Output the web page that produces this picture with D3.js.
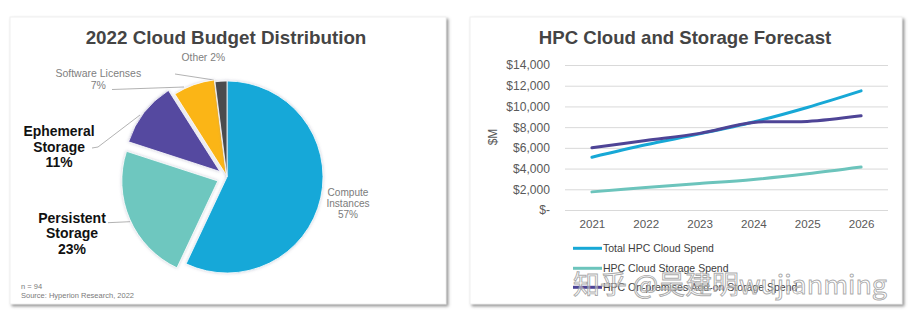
<!DOCTYPE html>
<html>
<head>
<meta charset="utf-8">
<script src="https://cdn.jsdelivr.net/npm/d3@7"></script>
<style>
  html, body { margin: 0; padding: 0; background: #fff; }
  svg { display: block; font-family: "Liberation Sans", Arial, sans-serif; }
</style>
</head>
<body>
<svg id="chart" width="909" height="325"></svg>
<script>
// ---- Budget split (percent of 2022 cloud budget) ----
const budgetCategories = ["Compute Instances", "Persistent Storage", "Ephemeral Storage", "Software Licenses", "Other"];
const budgetShares = [57, 23, 11, 7, 2];
const budgetColors = ["#12A8D8", "#6EC7BF", "#5549A0", "#FBB519", "#4B4B4D"];

// ---- Forecast ($M) ----
const years = ["2021", "2022", "2023", "2024", "2025", "2026"];
const totalCloudSpend = [5100, 6300, 7350, 8500, 9900, 11500];
const cloudStorageSpend = [1750, 2180, 2550, 2950, 3500, 4150];
const onPremStorageSpend = [6000, 6700, 7400, 8450, 8550, 9100];
const seriesNames = ["Total HPC Cloud Spend", "HPC Cloud Storage Spend", "HPC On-premises Add-on Storage Spend"];
const seriesColors = ["#17A8D6", "#6CC4BC", "#4E4496"];
const yTicks = [0, 2000, 4000, 6000, 8000, 10000, 12000, 14000];

const svg = d3.select("#chart");
const defs = svg.append("defs");

const card = defs.append("filter").attr("id", "cardShadow")
  .attr("x", "-5%").attr("y", "-5%").attr("width", "110%").attr("height", "110%");
card.append("feDropShadow").attr("dx", 2).attr("dy", 2).attr("stdDeviation", 1.4)
  .attr("flood-color", "#6f6f6f").attr("flood-opacity", 0.75);

const glow = defs.append("filter").attr("id", "sliceGlow")
  .attr("x", "-20%").attr("y", "-20%").attr("width", "140%").attr("height", "140%");
glow.append("feDropShadow").attr("dx", 0).attr("dy", 0).attr("stdDeviation", 1.6)
  .attr("flood-color", "#8a8aa8").attr("flood-opacity", 0.45);

// panel cards
[[10, 17, 436, 287], [470, 17, 432, 287]].forEach(([x, y, w, h]) => {
  svg.append("rect").attr("x", x).attr("y", y).attr("width", w).attr("height", h)
    .attr("fill", "#fff").attr("stroke", "#ececec").attr("stroke-width", 0.8)
    .attr("filter", "url(#cardShadow)");
});

// ================= Pie panel =================
const pieG = svg.append("g");
pieG.append("text").attr("x", 226).attr("y", 44).attr("text-anchor", "middle")
  .attr("font-size", 18.8).attr("font-weight", "bold").attr("fill", "#444")
  .text("2022 Cloud Budget Distribution");

const cx = 227, cy = 177, R = 96;
const explode = [0, 10, 9, 2, 0];
const pie = d3.pie().sort(null).value(d => d)(budgetShares);
const arc = d3.arc().innerRadius(0).outerRadius(R);

// leader lines (drawn under slices)
const leaderColor = "#a9a9a9";
const leaders = [
  [[92, 148], [98, 147], [140, 115]],
  [[108, 222.7], [130, 221.7]],
  [[112, 89.5], [184, 87]],
  [[175, 74], [214, 80]]
];
leaders.forEach(pts => {
  pieG.append("path").attr("d", d3.line()(pts)).attr("fill", "none")
    .attr("stroke", leaderColor).attr("stroke-width", 0.9);
});

pieG.selectAll("path.slice").data(pie).enter().append("path")
  .attr("class", "slice")
  .attr("transform", (d, i) => {
    const a = (d.startAngle + d.endAngle) / 2;
    return `translate(${cx + explode[i] * Math.sin(a)},${cy - explode[i] * Math.cos(a)})`;
  })
  .attr("d", arc)
  .attr("fill", (d, i) => budgetColors[i])
  .attr("stroke", "#fff").attr("stroke-width", 0.8)
  .attr("filter", "url(#sliceGlow)");

function multiline(g, x, ys, lines, opts) {
  const t = g.append("text").attr("text-anchor", "middle")
    .attr("font-size", opts.size).attr("fill", opts.fill)
    .attr("font-weight", opts.weight || "normal");
  lines.forEach((s, i) => t.append("tspan").attr("x", x).attr("y", ys[i]).text(s));
}
const pct = v => v + "%";
multiline(pieG, 348, [195.7, 206.9, 218.3], ["Compute", "Instances", pct(budgetShares[0])], { size: 10.1, fill: "#7b7b7b" });
multiline(pieG, 72, [222.5, 238.3, 254], ["Persistent", "Storage", pct(budgetShares[1])], { size: 14, fill: "#111", weight: "bold" });
multiline(pieG, 59, [136, 151.7, 167.3], ["Ephemeral", "Storage", pct(budgetShares[2])], { size: 13.9, fill: "#111", weight: "bold" });
multiline(pieG, 98.3, [77.3, 89.3], ["Software Licenses", pct(budgetShares[3])], { size: 10.5, fill: "#808080" });
multiline(pieG, 203.3, [61], ["Other " + pct(budgetShares[4])], { size: 10.3, fill: "#808080" });

pieG.append("text").attr("x", 21).attr("y", 288.5).attr("font-size", 7.5).attr("fill", "#7a7a7a").text("n = 94");
pieG.append("text").attr("x", 21).attr("y", 297.5).attr("font-size", 7.5).attr("fill", "#7a7a7a").text("Source: Hyperion Research, 2022");

// ================= Forecast panel =================
const lg = svg.append("g");
lg.append("text").attr("x", 685).attr("y", 44).attr("text-anchor", "middle")
  .attr("font-size", 18.6).attr("font-weight", "bold").attr("fill", "#444")
  .text("HPC Cloud and Storage Forecast");

const x = d3.scalePoint().domain(years).range([565, 888]).padding(0.5);
const y = d3.scaleLinear().domain([0, 14000]).range([210, 65]);

// gridlines + y tick labels
const yAxis = d3.axisLeft(y).tickValues(yTicks).tickSize(-(888 - 565)).tickPadding(15)
  .tickFormat(v => v === 0 ? "$-" : "$" + d3.format(",")(v));
const yG = lg.append("g").attr("transform", "translate(565,0)").call(yAxis);
yG.select(".domain").remove();
yG.selectAll(".tick line").attr("stroke", "#d9d9d9").attr("stroke-width", 1);
yG.selectAll(".tick text").attr("font-size", 12.1).attr("fill", "#595959")
  .attr("font-family", "Liberation Sans, Arial, sans-serif");

// x tick labels
const xAxis = d3.axisBottom(x).tickSize(0).tickPadding(0);
const xG = lg.append("g").attr("transform", "translate(0,210)").call(xAxis);
xG.select(".domain").remove();
xG.selectAll(".tick text").attr("font-size", 11.6).attr("fill", "#595959")
  .attr("dy", 0).attr("y", 18.3)
  .attr("font-family", "Liberation Sans, Arial, sans-serif");

lg.append("text").attr("transform", "translate(497,137) rotate(-90)")
  .attr("text-anchor", "middle").attr("font-size", 12).attr("fill", "#595959").text("$M");

const series = [totalCloudSpend, cloudStorageSpend, onPremStorageSpend];
const line = d3.line().x((d, i) => x(years[i])).y(d => y(d)).curve(d3.curveCatmullRom.alpha(0.5));
// draw order: storage, total, on-prem on top
[1, 0, 2].forEach(k => {
  lg.append("path").attr("d", line(series[k])).attr("fill", "none")
    .attr("stroke", seriesColors[k]).attr("stroke-width", 3).attr("stroke-linecap", "round");
});

// legend
const legendRows = [[248.3, 251.8], [268.3, 271.8], [287.3, 290.8]];
seriesNames.forEach((name, i) => {
  lg.append("line").attr("x1", 573).attr("x2", 602)
    .attr("y1", legendRows[i][0]).attr("y2", legendRows[i][0])
    .attr("stroke", seriesColors[i]).attr("stroke-width", 3);
  lg.append("text").attr("x", 603).attr("y", legendRows[i][1])
    .attr("font-size", 10.5).attr("fill", "#404040").text(name);
});

// author mark
svg.append("text").attr("x", 573).attr("y", 294)
  .attr("font-family", "Noto Sans CJK SC, sans-serif").attr("font-size", 26)
  .attr("textLength", 314).attr("lengthAdjust", "spacingAndGlyphs")
  .attr("fill", "#ffffff").attr("fill-opacity", 0.45)
  .attr("stroke", "#9a9a9a").attr("stroke-width", 0.9).attr("stroke-opacity", 0.85)
  .text("知乎 @吴建明wujianming");
</script>
</body>
</html>
